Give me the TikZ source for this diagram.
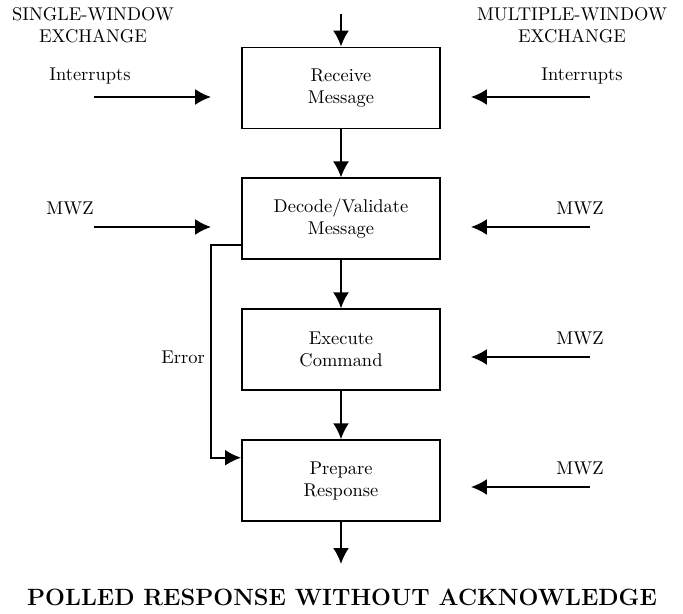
\documentclass[tikz,border=0pt]{standalone}
\usetikzlibrary{positioning,arrows.meta}

\begin{document}
\begin{tikzpicture}[x=0.02cm, y=-0.02cm,
      node distance=0.96cm,
      box/.style={draw, line width=1.1pt, minimum width=3.96cm,
        minimum height=1.62cm, align=center, inner sep=0pt,
        font=\fontsize{10.5}{12.5}\selectfont},
      lab/.style={align=center, inner sep=0pt,
        font=\fontsize{10.5}{12.5}\selectfont},
      arr/.style={-{Latex[length=3.2mm,width=3.2mm]}, line width=1.1pt}]
    \useasboundingbox (0,0) rectangle (683,614);
    % main column
    \node[box] (recv) at (341,88) {Receive\\Message};
    \node[box, below=of recv] (dec) {Decode/Validate\\Message};
    \node[box, below=of dec] (exe) {Execute\\Command};
    \node[box, below=of exe] (prep) {Prepare\\Response};
    \coordinate (top) at (341,14);
    \coordinate (bot) at (341,564);
    \draw[arr] (top) -- (recv);
    \draw[arr] (recv) -- (dec);
    \draw[arr] (dec) -- (exe);
    \draw[arr] (exe) -- (prep);
    \draw[arr] (prep) -- (bot);
    \node[font=\fontsize{13.4}{16}\selectfont\bfseries, inner sep=0pt] (title) at (342,597)
      {POLLED RESPONSE WITHOUT ACKNOWLEDGE};
    % single window side
    \node[lab] (swx) at (93,25) {SINGLE-WINDOW\\EXCHANGE};
    \node[lab] (lint) at (90,76) {Interrupts};
    \node[lab] (lmwz) at (70,208) {MWZ};
    \coordinate (l1) at (94,97);
    \coordinate (l2) at (94,227);
    \draw[arr, shorten >=0.6cm] (l1) -- (l1 -| recv.west);
    \draw[arr, shorten >=0.6cm] (l2) -- (l2 -| dec.west);
    % multiple window side
    \node[lab] (mwx) at (572,25) {MULTIPLE-WINDOW\\EXCHANGE};
    \node[lab] (rint) at (582,76) {Interrupts};
    \foreach \n/\y in {1/97,2/227,3/357,4/487} {
      \coordinate (r\n) at (590,\y);
    }
    \draw[arr, shorten >=0.6cm] (r1) -- (r1 -| recv.east);
    \draw[arr, shorten >=0.6cm] (r2) -- (r2 -| dec.east);
    \draw[arr, shorten >=0.6cm] (r3) -- (r3 -| exe.east);
    \draw[arr, shorten >=0.6cm] (r4) -- (r4 -| prep.east);
    \node[lab] (rmwz2) at (580,208) {MWZ};
    \node[lab] (rmwz3) at (580,338) {MWZ};
    \node[lab] (rmwz4) at (580,468) {MWZ};
    % error path
    \coordinate (ebend) at (211,245);
    \draw[arr] (ebend -| dec.west) -- (ebend) |- ([yshift=0.46cm]prep.west);
    \node[lab] (err) at (183,357) {Error};
  \end{tikzpicture}
\end{document}
